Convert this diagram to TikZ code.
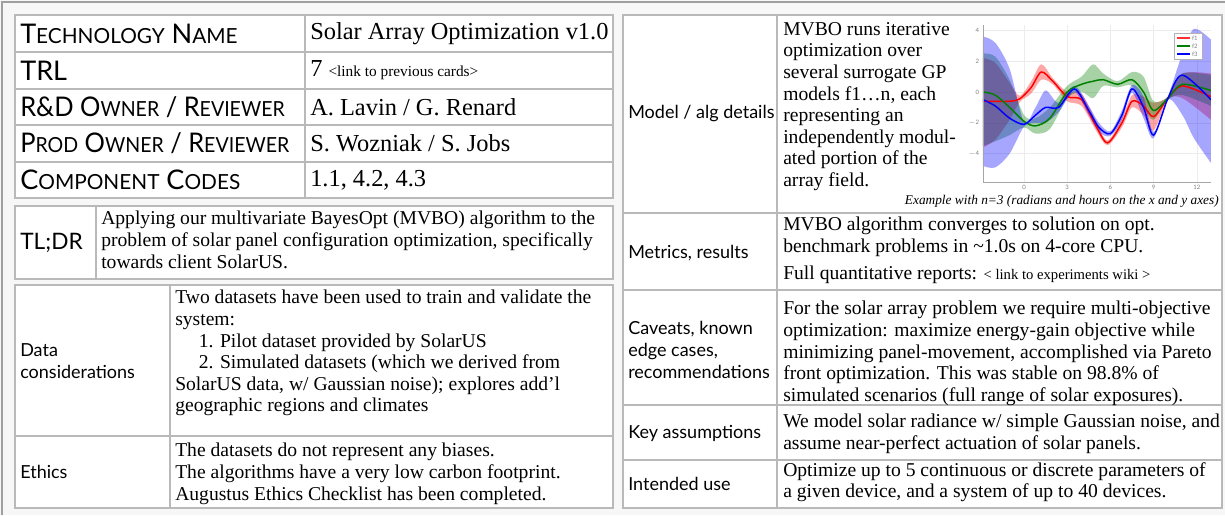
\documentclass[tikz,border=0pt]{standalone}
\usepackage{fontspec}
\setmainfont{Liberation Serif}
\newfontfamily\labfont{Lato}
\usepackage{tikz}
\newcommand{\capsword}[2]{{\fontsize{20.3}{22}\selectfont #1}{\fontsize{15.6}{22}\selectfont #2}}
\newcommand{\bodysize}{\fontsize{14.7}{16.2}\selectfont}
\newcommand{\labsize}{\labfont\fontsize{13.5}{16.2}\selectfont}
\newcommand{\ticksize}{\labfont\fontsize{4.5}{5}\selectfont}

\begin{document}
\begin{tikzpicture}[x=0.75pt, y=-0.75pt,
  tablebox/.style={draw=gray!55, line width=0.9pt, fill=white},
  gridline/.style={draw=gray!55, line width=0.9pt},
  capslab/.style={anchor=west, inner sep=0pt, font=\labfont\fontsize{20.3}{22}\selectfont},
  headval/.style={anchor=west, inner sep=0pt, font=\fontsize{18.3}{20}\selectfont},
  lab/.style={anchor=west, inner sep=0pt, align=left, font=\labsize},
  valtext/.style={anchor=north west, inner sep=0pt, align=left, font=\bodysize},
  band/.style={opacity=0.35, draw=none},
  meanline/.style={line width=1.1pt},
  plotgrid/.style={draw=gray!15, line width=0.3pt},
  ticklab/.style={inner sep=0pt, text=gray, font=\ticksize}]
\useasboundingbox (0,0) rectangle (1225,515);
\fill[gray!6] (0,0) rectangle (1225,515);
\draw[gray!75, line width=1.5pt] (2,515) -- (2,2) -- (1225,2);

\draw[tablebox] (15,15) rectangle (613,198);
\draw[gridline] (305,15) -- (305,198);
\draw[gridline] (15,52) -- (613,52);
\draw[gridline] (15,89) -- (613,89);
\draw[gridline] (15,125) -- (613,125);
\draw[gridline] (15,162) -- (613,162);
\node[capslab] (techname) at (20,33.5) {\capsword{T}{ECHNOLOGY} \capsword{N}{AME}};
\node[capslab] (trl) at (20,70.5) {TRL};
\node[capslab] (rdowner) at (20,107) {\scalebox{0.94}[1]{R\&D \capsword{O}{WNER} / \capsword{R}{EVIEWER}}};
\node[capslab] (prodowner) at (20,143.5) {\scalebox{0.94}[1]{\capsword{P}{ROD} \capsword{O}{WNER} / \capsword{R}{EVIEWER}}};
\node[capslab] (compcodes) at (20,180) {\capsword{C}{OMPONENT} \capsword{C}{ODES}};
\node[headval] (technameval) at (310,33.5) {Solar Array Optimization v1.0};
\node[headval] (trlval) at (310,70.5) {7 {\fontsize{11.5}{13}\selectfont <link to previous cards>}};
\node[headval] (rdownerval) at (310,107) {A. Lavin / G. Renard};
\node[headval] (prodownerval) at (310,143.5) {S. Wozniak / S. Jobs};
\node[headval] (compcodesval) at (310,180) {1.1, 4.2, 4.3};

\draw[tablebox] (15,206) rectangle (613,279);
\draw[gridline] (96,206) -- (96,279);
\node[lab, font=\labfont\fontsize{17}{19}\selectfont] (tldr) at (20,242.5) {TL;DR};
\node[valtext] (tldrtext) at (101,211) {Applying our multivariate BayesOpt (MVBO) algorithm to the\\problem of solar panel configuration optimization, specifically\\towards client SolarUS.};

\draw[tablebox] (15,285) rectangle (613,508);
\draw[gridline] (170,285) -- (170,508);
\draw[gridline] (15,436) -- (613,436);
\node[lab] (datalab) at (20,361) {Data\\considerations};
\node[valtext] (datatext) at (175,290) {Two datasets have been used to train and validate the\\system:\\\hspace{1.2em}1. Pilot dataset provided by SolarUS\\\hspace{1.2em}2. Simulated datasets (which we derived from\\SolarUS data, w/ Gaussian noise); explores add’l\\geographic regions and climates};
\node[lab] (ethicslab) at (20,472) {Ethics};
\node[valtext] (ethicstext) at (175,443) {The datasets do not represent any biases.\\The algorithms have a very low carbon footprint.\\Augustus Ethics Checklist has been completed.};

\draw[tablebox] (623,15) rectangle (1222,508);
\draw[gridline] (777,15) -- (777,508);
\draw[gridline] (623,213) -- (1222,213);
\draw[gridline] (623,290) -- (1222,290);
\draw[gridline] (623,405) -- (1222,405);
\draw[gridline] (623,460) -- (1222,460);
\node[lab] (modellab) at (628,114) {Model / alg details};
\node[valtext] (modeltext) at (783,22) {MVBO runs iterative\\optimization over\\several surrogate GP\\models f1…n, each\\representing an\\independently modul-\\ated portion of the\\array field.};
\node[anchor=base east, inner sep=0pt, font=\itshape\fontsize{10}{12}\selectfont] (caption) at (1219,204) {Example with n=3 (radians and hours on the x and y axes)};
\node[lab] (metricslab) at (628,253) {Metrics, results};
\node[valtext] (metricstext) at (783,217) {MVBO algorithm converges to solution on opt.\\benchmark problems in \textasciitilde1.0s on 4-core CPU.};
\node[valtext] (metricslink) at (783,266) {Full quantitative reports: {\fontsize{11}{12}\selectfont < link to experiments wiki >}};
\node[lab] (caveatslab) at (628,350) {Caveats, known\\edge cases,\\recommendations};
\node[valtext] (caveatstext) at (783,301) {For the solar array problem we require multi-objective\\optimization: maximize energy-gain objective while\\minimizing panel-movement, accomplished via Pareto\\front optimization. This was stable on 98.8\% of\\simulated scenarios (full range of solar exposures).};
\node[lab] (keylab) at (628,433) {Key assumptions};
\node[valtext] (keytext) at (783,414) {We model solar radiance w/ simple Gaussian noise, and\\assume near-perfect actuation of solar panels.};
\node[lab] (uselab) at (628,484) {Intended use};
\node[valtext] (usetext) at (783,462) {Optimize up to 5 continuous or discrete parameters of\\a given device, and a system of up to 40 devices.};

\begin{scope}[shift={(1024,92)}, x=10.8pt, y=11.55pt]
\draw[plotgrid] (0,-5.84) -- (0,4.35);
\draw[plotgrid] (3,-5.84) -- (3,4.35);
\draw[plotgrid] (6,-5.84) -- (6,4.35);
\draw[plotgrid] (9,-5.84) -- (9,4.35);
\draw[plotgrid] (12,-5.84) -- (12,4.35);
\draw[plotgrid] (-2.85,4) -- (12.98,4);
\draw[plotgrid] (-2.85,2) -- (12.98,2);
\draw[plotgrid] (-2.85,0) -- (12.98,0);
\draw[plotgrid] (-2.85,-2) -- (12.98,-2);
\draw[plotgrid] (-2.85,-4) -- (12.98,-4);
\begin{scope}
\clip (-2.85,-5.84) rectangle (12.98,4.35);
\fill[red, band] plot[smooth] coordinates {(-2.85,2.2) (-2,1.9) (-1,0.6) (-0.3,-0.25) (0.5,0.7) (1.2,1.8) (2,0.9) (3,0) (4,-0.1) (5,-1.9) (5.8,-3.15) (6.8,-1.7) (7.5,-0.2) (8.3,-0.3) (9,-0.7) (10,-0.3) (11,1.2) (12.98,1.2)} -- plot[smooth] coordinates {(12.98,-1.8) (11,-0.4) (10,-0.5) (9,-2.5) (8.3,-1.5) (7.5,-1.0) (6.8,-2.3) (5.8,-3.45) (5,-2.5) (4,-0.9) (3,-0.6) (2,0.5) (1.2,0.8) (0.5,-0.1) (-0.3,-0.65) (-1,-1.8) (-2,-3.1) (-2.85,-3.6)} -- cycle;
\fill[green!50!black, band] plot[smooth] coordinates {(-2.85,2.5) (-2,2.3) (-1,0.8) (0,-1.5) (0.8,-1.7) (1.8,-1.0) (3,0.4) (4,1.0) (4.8,1.8) (5.5,1.2) (6.5,0.7) (7.5,1.3) (8.3,1.0) (9,-0.6) (10,-0.3) (11,1.2) (12.98,1.1)} -- plot[smooth] coordinates {(12.98,-0.9) (11,-0.2) (10,-0.5) (9,-1.8) (8.3,-1.0) (7.5,0.4) (6.5,0.3) (5.5,0.4) (4.8,-0.4) (4,0) (3,-0.4) (1.8,-2.4) (0.8,-2.7) (0,-2.3) (-1,-2.8) (-2,-3.2) (-2.85,-3.5)} -- cycle;
\fill[blue, band] plot[smooth] coordinates {(-2.85,3.6) (-2,3.2) (-1,1.5) (0,-1.95) (0.8,-1.0) (1.5,0.1) (2.4,-0.7) (3.5,0.4) (4.5,-0.9) (5.2,-2.0) (6,-2.55) (6.8,-1.2) (7.5,0.45) (8.3,-0.3) (9,-2.6) (10,-0.3) (11,2.5) (11.8,4.1) (12.98,3.4)} -- plot[smooth] coordinates {(12.98,-4.6) (11.8,-3.0) (11,-1.5) (10,-0.5) (9,-3.0) (8.3,-1.7) (7.5,-0.05) (6.8,-1.8) (6,-2.85) (5.2,-2.6) (4.5,-1.5) (3.5,0.0) (2.4,-1.3) (1.5,-2.0) (0.8,-2.0) (0,-2.25) (-1,-4.0) (-2,-4.9) (-2.85,-4.8)} -- cycle;
\draw[red, meanline] plot[smooth] coordinates {(-2.85,-0.6) (-2,-0.6) (-1,-0.6) (-0.3,-0.45) (0.5,0.3) (1.2,1.3) (2,0.7) (3,-0.3) (4,-0.5) (5,-2.2) (5.8,-3.3) (6.8,-2) (7.5,-0.6) (8.3,-0.9) (9,-1.6) (10,-0.4) (11,0.4) (12.98,-0.3)};
\draw[green!50!black, meanline] plot[smooth] coordinates {(-2.85,0) (-2,-0.2) (-1,-1.0) (0,-1.9) (0.8,-2.2) (1.8,-1.7) (3,0) (4,0.5) (4.8,0.7) (5.5,0.8) (6.5,0.5) (7.5,0.8) (8.3,0) (9,-1.2) (10,-0.4) (11,0.5) (12.98,0.1)};
\draw[blue, meanline] plot[smooth] coordinates {(-2.85,-0.5) (-2,-0.9) (-1,-1.7) (0,-2.1) (0.8,-1.5) (1.5,-1.0) (2.4,-1.0) (3.5,0.2) (4.5,-1.2) (5.2,-2.3) (6,-2.7) (6.8,-1.5) (7.5,0.2) (8.3,-1.0) (9,-2.8) (10,-0.4) (11,1.1) (12.98,-0.5)};
\end{scope}
\draw[gray!70, line width=0.4pt] (-2.85,4.35) -- (-2.85,-5.84) -- (12.98,-5.84);
\node[ticklab, anchor=east] (ytick4) at (-3.1,4) {4};
\node[ticklab, anchor=east] (ytick2) at (-3.1,2) {2};
\node[ticklab, anchor=east] (ytick0) at (-3.1,0) {0};
\node[ticklab, anchor=east] (ytickm2) at (-3.1,-2) {$-$2};
\node[ticklab, anchor=east] (ytickm4) at (-3.1,-4) {$-$4};
\node[ticklab, anchor=north] (xtick0) at (0,-6.05) {0};
\node[ticklab, anchor=north] (xtick3) at (3,-6.05) {3};
\node[ticklab, anchor=north] (xtick6) at (6,-6.05) {6};
\node[ticklab, anchor=north] (xtick9) at (9,-6.05) {9};
\node[ticklab, anchor=north] (xtick12) at (12,-6.05) {12};
\draw[fill=white, draw=gray!60, line width=0.4pt] (10.42,3.83) rectangle (12.36,2.14);
\draw[red!80, line width=1pt] (10.65,3.5) -- (11.5,3.5);
\draw[green!50!black, line width=1pt] (10.65,2.98) -- (11.5,2.98);
\draw[blue, line width=1pt] (10.65,2.46) -- (11.5,2.46);
\node[ticklab, anchor=west] (legf1) at (11.65,3.5) {f1};
\node[ticklab, anchor=west] (legf2) at (11.65,2.98) {f2};
\node[ticklab, anchor=west] (legf3) at (11.65,2.46) {f3};
\end{scope}
\end{tikzpicture}
\end{document}
